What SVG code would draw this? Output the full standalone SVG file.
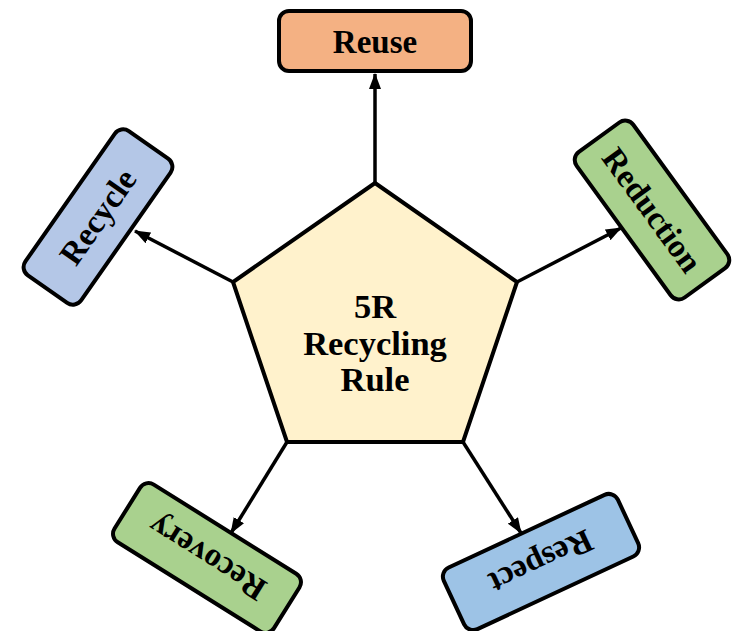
<svg xmlns="http://www.w3.org/2000/svg" width="738" height="631" viewBox="0 0 738 631">
<defs>
<style>
.box{stroke:#000;stroke-width:4}
.lbl{font-family:"Liberation Serif","Times New Roman",serif;font-weight:bold;font-size:33px;fill:#000;text-anchor:middle}
.big{font-size:34.5px}
.conn{stroke:#000;stroke-width:3.5;fill:none}
</style>
<marker id="ah" viewBox="0 0 16 12" refX="15" refY="6" markerWidth="16" markerHeight="12" markerUnits="userSpaceOnUse" orient="auto">
<path d="M0,0 L16,6 L0,12 Z" fill="#000"/>
</marker>
</defs>
<rect width="738" height="631" fill="#fff"/>
<g id="connectors">
<line class="conn" x1="375" y1="183" x2="375" y2="74" marker-end="url(#ah)"/>
<line class="conn" x1="233" y1="282" x2="135" y2="231" marker-end="url(#ah)"/>
<line class="conn" x1="517" y1="282" x2="621" y2="228" marker-end="url(#ah)"/>
<line class="conn" x1="287" y1="442" x2="231" y2="533" marker-end="url(#ah)"/>
<line class="conn" x1="463" y1="442" x2="521" y2="533" marker-end="url(#ah)"/>
</g>
<g id="center">
<polygon class="box" fill="#FFF2CC" points="375,183 517,282 463,442 287,442 233,282"/>
<text class="lbl big" x="375" y="318">5R</text>
<text class="lbl big" x="375" y="355">Recycling</text>
<text class="lbl big" x="375" y="391">Rule</text>
</g>
<g id="reuse">
<rect class="box" fill="#F4B183" x="279" y="11" width="192" height="60" rx="10"/>
<text class="lbl" x="375" y="53">Reuse</text>
</g>
<g id="recycle" transform="translate(98,217) rotate(-55)">
<rect class="box" fill="#B4C7E7" x="-88" y="-34" width="176" height="68" rx="10"/>
<text class="lbl" x="0" y="11">Recycle</text>
</g>
<g id="reduction" transform="translate(652,210) rotate(54)">
<rect class="box" fill="#A9D18E" x="-90" y="-35" width="180" height="70" rx="10"/>
<text class="lbl" x="0" y="11">Reduction</text>
</g>
<g id="recovery" transform="translate(207,558) rotate(212)">
<rect class="box" fill="#A9D18E" x="-94" y="-34" width="188" height="68" rx="10"/>
<text class="lbl" x="0" y="11">Recovery</text>
</g>
<g id="respect" transform="translate(541,562) rotate(155)">
<rect class="box" fill="#9DC3E6" x="-96" y="-34" width="192" height="68" rx="10"/>
<text class="lbl" x="0" y="11">Respect</text>
</g>
</svg>
